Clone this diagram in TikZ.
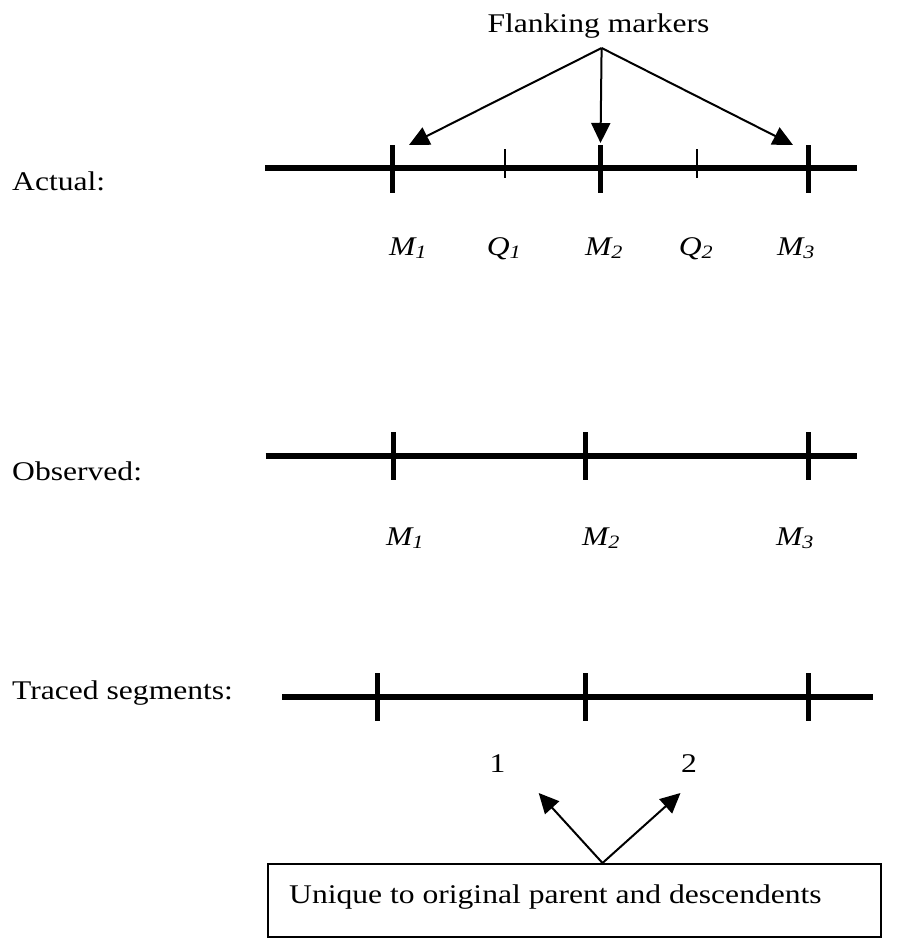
\documentclass[tikz,border=0pt]{standalone}
\usepackage{fontspec}
\setmainfont{Liberation Serif}
\usepackage{graphicx}
\usetikzlibrary{arrows.meta}
\newcommand\sx[1]{\scalebox{1.17}[1]{#1}}
\begin{document}
\begin{tikzpicture}[x=1pt,y=-1pt,
  txt/.style={inner sep=0pt, anchor=base, font=\fontsize{27}{32}\selectfont},
  lbl/.style={txt, anchor=base west},
  chrom/.style={line width=6.5pt},
  bigtick/.style={line width=5pt},
  smalltick/.style={line width=1.6pt},
  ptr/.style={line width=2pt, -{Triangle[length=20pt,width=19pt]}},
]
\useasboundingbox (0,0) rectangle (907,939);

% ---------- Actual ----------
\node[lbl] (actual) at (12,190) {\sx{Actual:}};
\coordinate (aL) at (265,168);
\coordinate (aR) at (857,168);
\draw[chrom] (aL) -- (aR);
\foreach \x/\n in {392/am1,600.5/am2,808.5/am3}{
  \coordinate (\n t) at (\x,145);
  \coordinate (\n b) at (\x,193);
  \draw[bigtick] (\n t) -- (\n b);
}
\foreach \x/\n in {505/aq1,697/aq2}{
  \coordinate (\n t) at (\x,149);
  \coordinate (\n b) at (\x,178);
  \draw[smalltick] (\n t) -- (\n b);
}
\node[txt] (lam1) at (408,255) {\sx{\textit{M\textsubscript{1}}}};
\node[txt] (laq1) at (504,255) {\sx{\textit{Q\textsubscript{1}}}};
\node[txt] (lam2) at (604,255) {\sx{\textit{M\textsubscript{2}}}};
\node[txt] (laq2) at (696,255) {\sx{\textit{Q\textsubscript{2}}}};
\node[txt] (lam3) at (796,255) {\sx{\textit{M\textsubscript{3}}}};

% ---------- Flanking markers ----------
\node[txt] (flank) at (598.5,33) {\sx{Flanking markers}};
\coordinate (fo) at (601.6,48);
\coordinate (f1) at (409,145);
\coordinate (f2) at (600.5,143);
\coordinate (f3) at (793,145);
\draw[ptr] (fo) -- (f1);
\draw[ptr] (fo) -- (f2);
\draw[ptr] (fo) -- (f3);

% ---------- Observed ----------
\node[lbl] (observed) at (12,480) {\sx{Observed:}};
\coordinate (oL) at (265.5,456);
\coordinate (oR) at (856.6,456);
\draw[chrom] (oL) -- (oR);
\foreach \x/\n in {393/om1,585.6/om2,808.5/om3}{
  \coordinate (\n t) at (\x,432);
  \coordinate (\n b) at (\x,480);
  \draw[bigtick] (\n t) -- (\n b);
}
\node[txt] (lom1) at (405,545) {\sx{\textit{M\textsubscript{1}}}};
\node[txt] (lom2) at (601,545) {\sx{\textit{M\textsubscript{2}}}};
\node[txt] (lom3) at (795,545) {\sx{\textit{M\textsubscript{3}}}};

% ---------- Traced segments ----------
\node[lbl] (traced) at (12,699) {\sx{Traced segments:}};
\coordinate (tL) at (282,697);
\coordinate (tR) at (872.6,697);
\draw[chrom] (tL) -- (tR);
\foreach \x/\n in {377.5/tm1,585.5/tm2,808.5/tm3}{
  \coordinate (\n t) at (\x,673);
  \coordinate (\n b) at (\x,721);
  \draw[bigtick] (\n t) -- (\n b);
}
\node[txt] (seg1) at (497.5,772) {\sx{1}};
\node[txt] (seg2) at (689,772) {\sx{2}};

% ---------- Box ----------
\node[draw, line width=1.5pt, inner sep=0pt, anchor=north west,
      minimum width=613pt, minimum height=73pt] (box) at (267,863) {};
\node[lbl] (boxtext) at (289,903) {\sx{Unique to original parent and descendents}};
\coordinate (bo) at (602.5,863);
\coordinate (b1) at (538.7,793);
\coordinate (b2) at (680.5,793);
\draw[ptr] (bo) -- (b1);
\draw[ptr] (bo) -- (b2);
\end{tikzpicture}
\end{document}
